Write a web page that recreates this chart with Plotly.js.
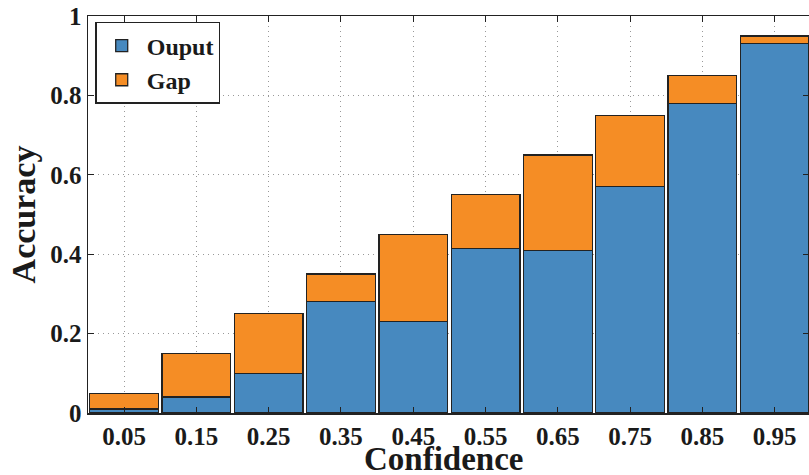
<!DOCTYPE html>
<html><head><meta charset="utf-8">
<script src="https://cdn.plot.ly/plotly-3.0.1.min.js"></script>
<style>body{margin:0;padding:0;background:#fff}#c{width:809px;height:475px}</style>
</head><body><div id="c"></div>
<script>
const confidence = [0.05, 0.15, 0.25, 0.35, 0.45, 0.55, 0.65, 0.75, 0.85, 0.95];
const output = [0.01, 0.04, 0.10, 0.28, 0.23, 0.415, 0.41, 0.57, 0.78, 0.93];
const gap = confidence.map((c, i) => +(c - output[i]).toFixed(3));
const xTickLabels = ['0.05','0.15','0.25','0.35','0.45','0.55','0.65','0.75','0.85','0.95'];
const yTickVals = [0, 0.2, 0.4, 0.6, 0.8, 1];
const yTickLabels = ['0','0.2','0.4','0.6','0.8','1'];
const xTitle = 'Confidence';
const yTitle = 'Accuracy';

const fam = 'Liberation Serif, Times New Roman, serif';
const f = (size) => ({family: fam, size: size, weight: 'bold', color: '#1a1a1a'});
const traces = [
  {type:'bar', name:'Ouput', x:confidence, y:output, width:0.095,
   marker:{color:'#4789bf', line:{color:'#222', width:1.3}}},
  {type:'bar', name:'Gap', x:confidence, y:gap, width:0.095,
   marker:{color:'#f58d25', line:{color:'#222', width:1.3}}}
];
const axisCommon = {
  ticks:'inside', ticklen:6, tickcolor:'#222', showline:true, linecolor:'#222', linewidth:1.5,
  mirror:'ticks', showgrid:true, gridcolor:'#999', griddash:'1px,4px', gridwidth:1, zeroline:false,
  tickfont:f(25), ticklabeloverflow:'allow'
};
const layout = {
  width:809, height:475, barmode:'stack',
  margin:{l:88, r:0, t:16, b:62},
  paper_bgcolor:'#fff', plot_bgcolor:'#fff',
  font:f(24),
  showlegend:true,
  legend:{x:0.01, y:0.985, xanchor:'left', yanchor:'top', bordercolor:'#222', borderwidth:1.5,
          bgcolor:'#fff', font:f(24), traceorder:'normal', tracegroupgap:0, itemwidth:40},
  xaxis:Object.assign({}, axisCommon, {range:[0, 0.9975], tickvals:confidence, ticktext:xTickLabels,
         ticklabelstandoff:0}),
  yaxis:Object.assign({}, axisCommon, {range:[0, 1], tickvals:yTickVals, ticktext:yTickLabels,
         title:{text:yTitle, standoff:4, font:f(34)}}),
  annotations:[{text:xTitle, xref:'paper', yref:'paper', x:0.4935, y:0, xanchor:'center',
                yanchor:'bottom', yshift:-66, showarrow:false, font:f(33)}]
};
Plotly.newPlot('c', traces, layout, {displayModeBar:false, staticPlot:true});
</script></body></html>
